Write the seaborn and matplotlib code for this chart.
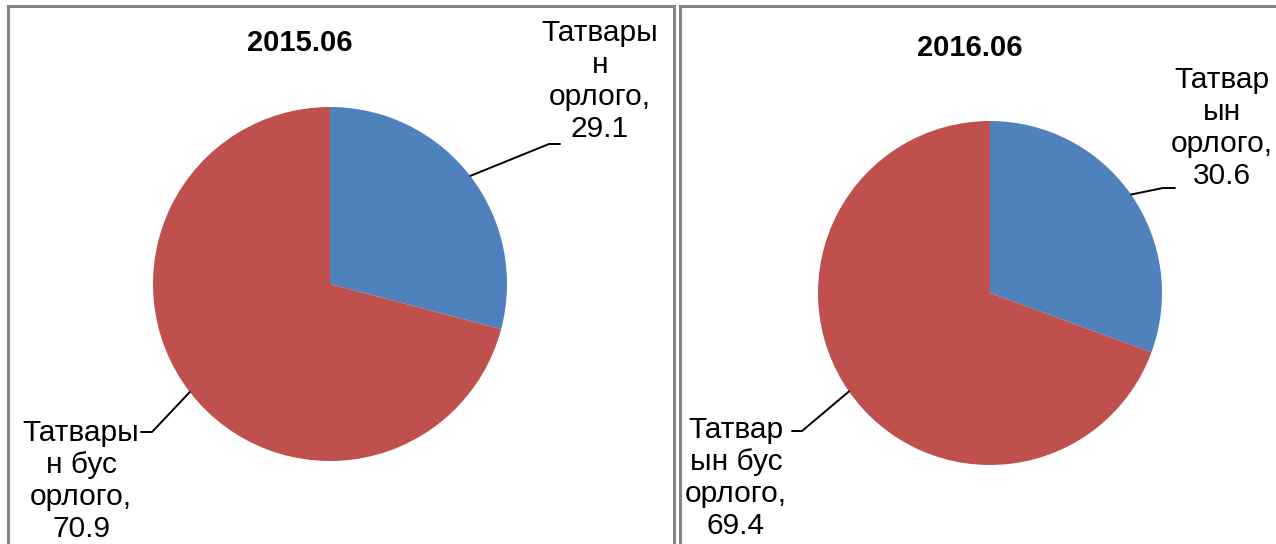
import numpy as np
import matplotlib
matplotlib.use('Agg')
import matplotlib.pyplot as plt
import seaborn as sns
from matplotlib.patches import Rectangle

# ---- data ----
titles = ['2015.06', '2016.06']
categories = ['Татварын орлого', 'Татварын бус орлого']
values_2015 = [29.1, 70.9]
values_2016 = [30.6, 69.4]
labels_2015 = ['Татвары\nн\nорлого,\n29.1', 'Татвары\nн бус\nорлого,\n70.9']
labels_2016 = ['Татвар\nын\nорлого,\n30.6', 'Татвар\nын бус\nорлого,\n69.4']
colors = ['#4F81BD', '#C0504D']

sns.set_theme(style='white')
plt.rcParams['font.family'] = ['Liberation Sans', 'DejaVu Sans']

W, H = 1276, 544
fig = plt.figure(figsize=(W / 100, H / 100), dpi=100)
fig.patch.set_facecolor('white')
ax = fig.add_axes([0, 0, 1, 1])


def Y(y):
    return H - y


panels = [
    dict(values=values_2015, labels=labels_2015, title=titles[0],
         center=(330, 284), r=177, box=(8, 6, 666), title_xy=(300, 43),
         text_xy=[(600, 81), (81, 481)],
         elbow=[[(549, 144), (560, 144)], [(152, 432), (141, 432)]]),
    dict(values=values_2016, labels=labels_2016, title=titles[1],
         center=(990, 293), r=172, box=(680, 6, 700), title_xy=(970, 48),
         text_xy=[(1222, 128), (736, 478)],
         elbow=[[(1163, 188), (1175, 188)], [(802, 431), (792, 431)]]),
]

for p in panels:
    bx, by, bw = p['box']
    ax.add_patch(Rectangle((bx, Y(600)), bw, 600 - by, fill=False,
                           edgecolor='#858585', linewidth=2.2, zorder=1))
    cx, cy = p['center']
    wedges, _ = ax.pie(p['values'], colors=colors, startangle=90, counterclock=False,
                       center=(cx, Y(cy)), radius=p['r'], frame=True,
                       wedgeprops=dict(linewidth=0))
    for w, lab, txy, elb in zip(wedges, p['labels'], p['text_xy'], p['elbow']):
        mid = np.deg2rad((w.theta1 + w.theta2) / 2)
        ex = cx + p['r'] * np.cos(mid)
        ey = Y(cy) + p['r'] * np.sin(mid)
        xs = [ex] + [e[0] for e in elb]
        ys = [ey] + [Y(e[1]) for e in elb]
        ax.plot(xs, ys, color='black', linewidth=1.4, zorder=3)
        ax.text(txy[0], Y(txy[1]), lab, ha='center', va='center', multialignment='center',
                fontsize=21.5, color='black', linespacing=1.17, zorder=4)
    ax.text(p['title_xy'][0], Y(p['title_xy'][1]), p['title'], ha='center', va='center',
            fontsize=21, fontweight='bold', color='black')

ax.set_xlim(0, W)
ax.set_ylim(0, H)
ax.set_aspect('equal')
ax.axis('off')

fig.savefig('out.png', dpi=100, facecolor='white')
